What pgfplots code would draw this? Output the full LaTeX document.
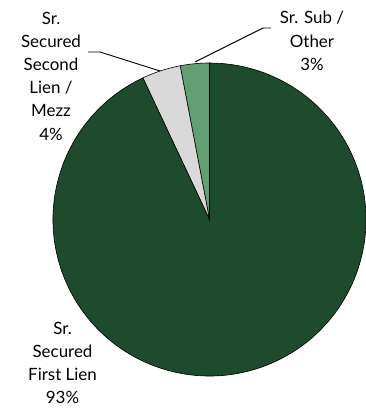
\documentclass[border=0pt]{standalone}
\usepackage{pgfplots}
\pgfplotsset{compat=1.18}
\usepackage{fontspec}
\setmainfont{Lato}
\definecolor{firstc}{HTML}{1E4A2E}
\definecolor{secc}{HTML}{D9D9D9}
\definecolor{subc}{HTML}{62A073}
% data (percent)
\def\vSub{3}
\def\vSec{4}
\def\vFirst{93}
\pgfmathsetmacro\aA{90}
\pgfmathsetmacro\aB{90+3.6*\vSub}
\pgfmathsetmacro\aC{90+3.6*(\vSub+\vSec)}
\pgfmathsetmacro\aD{90+3.6*(\vSub+\vSec+\vFirst)}
\begin{document}
\begin{tikzpicture}
\useasboundingbox (0,0) rectangle (366bp,413bp);
\begin{axis}[
  at={(0,0)}, anchor=south west,
  x=1bp, y=1bp, xmin=0, xmax=366, ymin=0, ymax=413,
  hide axis, clip=false,
]
\filldraw[fill=subc, draw=black, line width=0.6pt] (axis cs:209.5,193.5) -- ++(\aA:156.5bp) arc[start angle=\aA, end angle=\aB, radius=156.5bp] -- cycle;
\filldraw[fill=secc, draw=black, line width=0.6pt] (axis cs:209.5,193.5) -- ++(\aB:156.5bp) arc[start angle=\aB, end angle=\aC, radius=156.5bp] -- cycle;
\filldraw[fill=firstc, draw=black, line width=0.6pt] (axis cs:209.5,193.5) -- ++(\aC:156.5bp) arc[start angle=\aC, end angle=\aD, radius=156.5bp] -- cycle;
\draw[black, line width=0.9pt] (axis cs:88,361) -- (axis cs:100,361) -- (axis cs:160,342);
\draw[black, line width=0.9pt] (axis cs:195,351) -- (axis cs:263,385) -- (axis cs:271,385);
\node[align=center, font=\fontsize{17}{23.3}\selectfont, inner sep=0pt] at (axis cs:312,372) {Sr. Sub /\\Other\\\vSub\%};
\node[align=center, font=\fontsize{17}{23.3}\selectfont, inner sep=0pt] at (axis cs:51,337) {Sr.\\Secured\\Second\\Lien /\\Mezz\\\vSec\%};
\node[align=center, font=\fontsize{17}{23.3}\selectfont, inner sep=0pt] at (axis cs:62.5,50) {Sr.\\Secured\\First Lien\\\vFirst\%};
\end{axis}
\end{tikzpicture}
\end{document}
